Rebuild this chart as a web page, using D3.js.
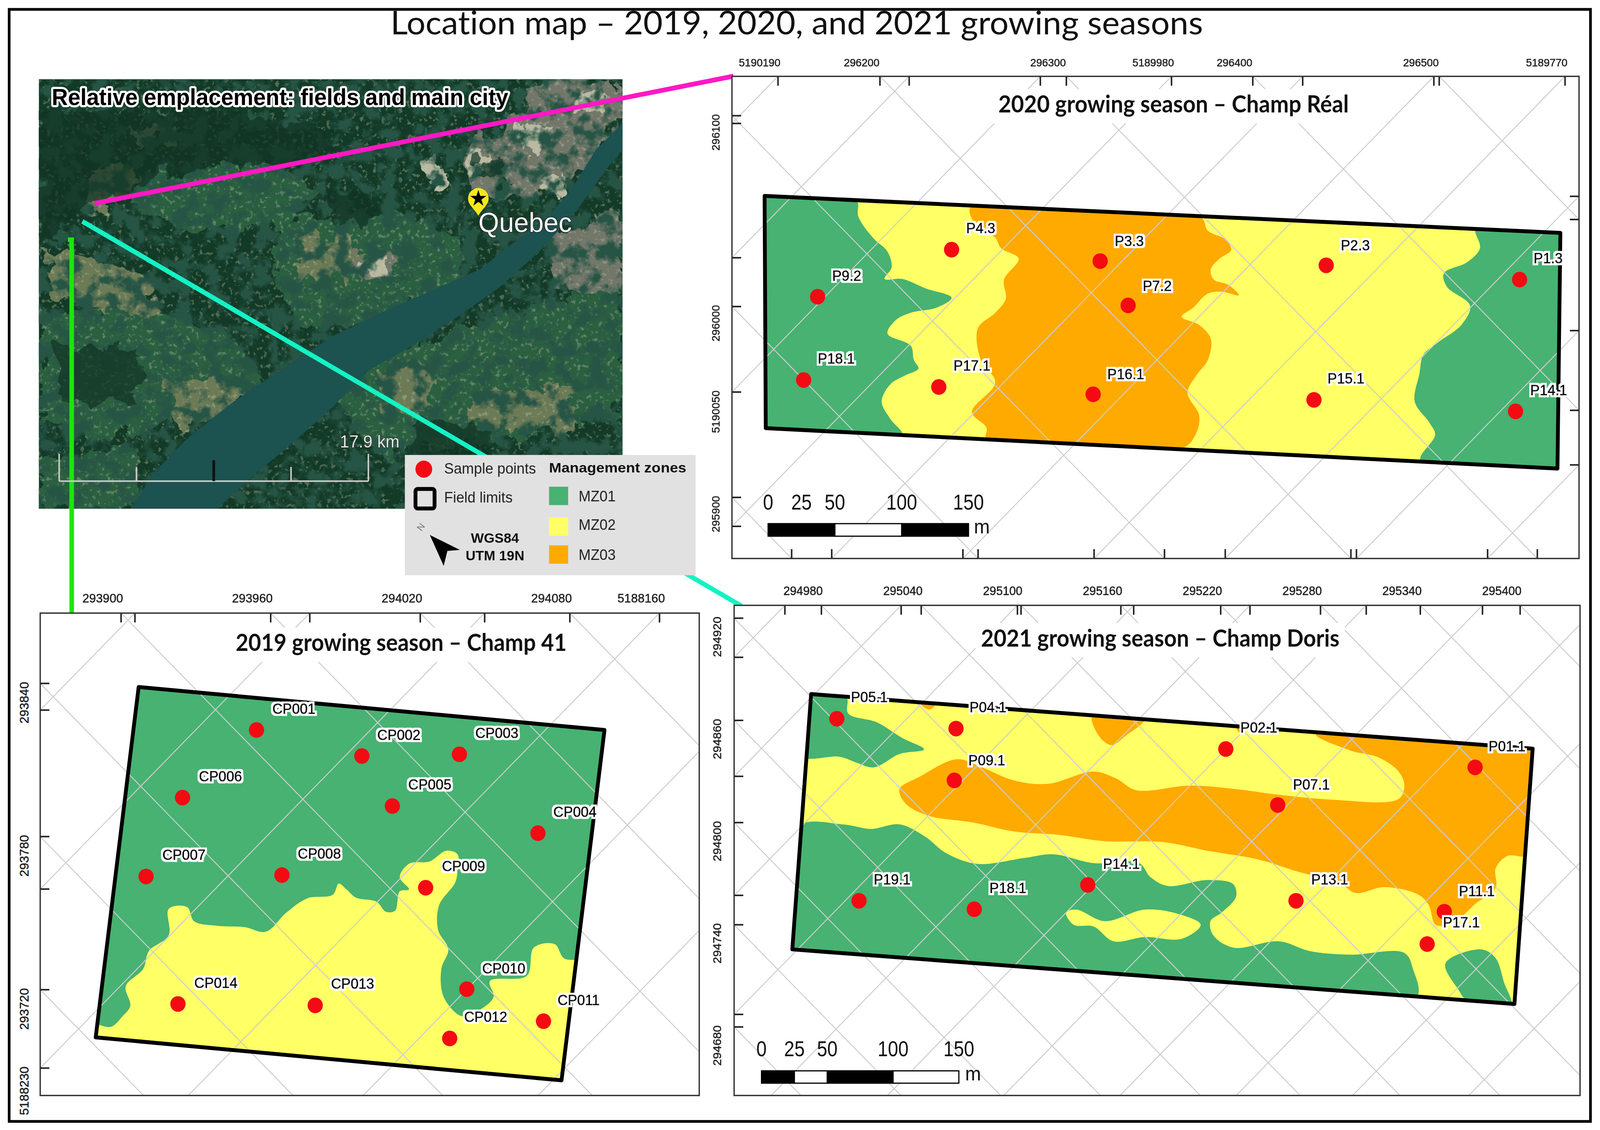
<!DOCTYPE html>
<html>
<head>
<meta charset="utf-8">
<script src="https://d3js.org/d3.v7.min.js"></script>
<style>
  html, body { margin: 0; padding: 0; width: 100%; height: 100%; overflow: hidden; background: #fff; }
  /* the window can come out narrower than asked, so the sheet always fills it */
  svg { display: block; width: 100vw; height: 100vh; }
  text { font-family: "Liberation Sans", Arial, sans-serif; font-variant-ligatures: none; }
</style>
</head>
<body>
<svg id="map" viewBox="0 0 4195 2894" preserveAspectRatio="none"></svg>
<script>
// titles
var mainTitle = "Location map – 2019, 2020, and 2021 growing seasons";
var reliefTitle = "Relative emplacement: fields and main city";

// zones
var zoneNames = ["MZ01", "MZ02", "MZ03"];
var zoneColors = ["#47b272", "#ffff66", "#ffaa00"];

// all outlines are digitized on a 0-1568 sheet for each panel

// Champ Reel 2020
var realField = [[134,450],[1500,556],[1495,1232],[136,1116]];
var realGreenLeft = [[120,440],[291,460],[295,510],[320,570],[345,610],[352,655],[340,688],[370,688],[410,715],[455,742],[430,770],[385,785],[360,805],[345,845],[385,880],[390,920],[398,945],[375,965],[350,990],[335,1040],[350,1090],[370,1135],[120,1125]];
var realGreenRight = [[1355,540],[1362,600],[1340,640],[1300,672],[1305,710],[1345,765],[1330,820],[1290,870],[1265,905],[1258,960],[1250,1040],[1275,1100],[1285,1135],[1260,1210],[1515,1245],[1515,545]];
var realOrange = [[488,480],[882,510],[895,550],[925,575],[935,605],[915,630],[900,660],[905,690],[930,705],[948,735],[920,725],[895,730],[870,770],[850,797],[880,820],[900,860],[895,920],[875,965],[860,1015],[880,1080],[875,1130],[850,1175],[515,1150],[515,1115],[490,1070],[530,985],[505,920],[500,830],[530,785],[548,745],[545,690],[570,630],[540,600],[530,570],[495,530]];
var realPoints = ["P4.3","P3.3","P2.3","P1.3","P9.2","P7.2","P18.1","P17.1","P16.1","P15.1","P14.1"];
var realPointX = [455,710,1098,1430,225,758,201,433,698,1077,1423];
var realPointY = [604,637,649,690,739,764,978,998,1019,1035,1068];
var realLabelX = [505,760,1148,1479,275,808,257,490,754,1132,1480];
var realLabelY = [546,583,595,632,682,711,920,940,965,977,1010];
var realEastings = [295900,296000,296100,296200,296300,296400,296500];
var realNorthings = [5190190,5190120,5190050,5189980,5189910,5189840,5189770,5189700,5189630,5189560];
var realTopLabels = [5190190,296200,296300,5189980,296400,296500,5189770];
var realLeftLabels = [296100,296000,5190050,295900];

// Champ 41 2019
var c41Field = [[300,310],[1308,432],[1215,1427],[207,1305]];
var c41Yellow = [[240,1275],[265,1245],[282,1215],[272,1160],[310,1110],[322,1060],[365,1015],[365,940],[405,935],[420,975],[470,988],[530,992],[575,1005],[620,950],[665,910],[720,900],[733,868],[750,885],[770,908],[815,920],[835,948],[855,945],[865,890],[885,885],[865,850],[885,812],[930,805],[965,775],[990,785],[990,830],[985,865],[950,930],[948,1000],[970,1055],[955,1110],[960,1190],[1000,1245],[1040,1225],[1068,1190],[1060,1145],[1140,1130],[1155,1050],[1200,1040],[1220,1080],[1260,1095],[1240,1450],[190,1320],[195,1268]];
var c41Points = ["CP001","CP002","CP003","CP006","CP005","CP004","CP007","CP008","CP009","CP010","CP014","CP013","CP011","CP012"];
var c41PointX = [555,783,994,395,849,1164,316,610,921,1010,385,682,1176,973];
var c41PointY = [432,506,501,624,648,725,848,844,880,1168,1210,1214,1259,1308];
var c41LabelX = [636,863,1075,477,930,1244,398,691,1003,1090,467,763,1252,1051];
var c41LabelY = [375,449,444,567,590,668,790,786,822,1112,1153,1156,1202,1250];
var c41Eastings = [293720,293780,293840,293900,293960,294020,294080];
var c41Northings = [5188370,5188300,5188230,5188160,5188090,5188020];
var c41TopLabels = [293900,293960,294020,294080,5188160];
var c41LeftLabels = [293840,293780,293720,5188230];

// Champ Doris 2021
var dorisField = [[185,330],[1450,485],[1418,1210],[152,1055]];
var dorisGreenTop = [[170,345],[205,335],[247,340],[250,385],[300,410],[345,455],[383,487],[340,500],[295,538],[265,525],[235,508],[165,505]];
var dorisGreenLow = [[160,708],[240,700],[290,713],[340,700],[385,735],[420,780],[475,812],[560,795],[610,785],[680,810],[760,810],[780,850],[810,875],[880,858],[925,870],[930,905],[905,950],[885,975],[890,1015],[925,1050],[1005,1032],[1060,1060],[1130,1070],[1225,1065],[1240,1110],[1245,1195],[135,1065]];
var dorisYellowIsland = [[632,950],[650,942],[700,975],[770,942],[830,955],[868,985],[835,1025],[770,1020],[715,1032],[680,990],[645,985]];
var dorisGreenCorner = [[1297,1095],[1360,1055],[1385,1080],[1400,1150],[1412,1215],[1335,1200],[1320,1170]];
var dorisOrangeTop = [[678,390],[770,400],[735,450],[712,475],[690,450]];
var dorisOrangeSlivers = [[378,360],[402,362],[392,374]];
var dorisOrangeTip = [[928,415],[948,420],[938,442]];
var dorisOrange = [[1070,445],[1465,480],[1445,785],[1405,790],[1385,825],[1385,880],[1350,925],[1310,980],[1280,985],[1268,930],[1250,900],[1190,878],[1140,895],[1110,865],[1040,835],[970,800],[880,775],[800,750],[700,748],[620,730],[540,720],[470,695],[390,675],[350,640],[340,600],[375,565],[440,515],[480,535],[540,575],[600,585],[680,550],[720,570],[755,603],[850,590],[930,600],[1000,615],[1100,630],[1215,628],[1225,590],[1215,550],[1180,510],[1130,490]];
var dorisPoints = ["P05.1","P04.1","P02.1","P01.1","P09.1","P07.1","P14.1","P19.1","P18.1","P13.1","P11.1","P17.1"];
var dorisPointX = [230,439,912,1349,436,1003,670,269,471,1035,1295,1265];
var dorisPointY = [400,428,486,538,575,645,872,917,941,917,948,1040];
var dorisLabelX = [287,495,970,1405,493,1062,729,327,530,1094,1352,1325];
var dorisLabelY = [342,371,428,482,522,590,815,860,884,860,893,982];
var dorisEastings = [294620,294680,294740,294800,294860,294920,294980,295040,295100,295160,295220,295280,295340,295400];
var dorisNorthingSteps = [0,1,2,3,4,5,6,7,8,9,10,11];
var dorisTopLabels = [294980,295040,295100,295160,295220,295280,295340,295400];
var dorisLeftLabels = [294920,294860,294800,294740,294680];

// scale bars
var scaleBarMeters = [0,25,50,100,150];
var realBarBlocks = [[0,50,"#000"],[50,100,"#fff"],[100,150,"#000"]];
var dorisBarBlocks = [[0,25,"#000"],[25,50,"#fff"],[50,100,"#000"],[100,150,"#fff"]];

// location image outlines
var riverOutline = [[1347,330],[1290,400],[1240,500],[1180,590],[1100,660],[1040,720],[930,780],[820,840],[720,900],[620,980],[500,1080],[400,1180],[330,1270],[285,1362],[470,1362],[560,1260],[620,1200],[720,1090],[800,990],[900,920],[1000,840],[1080,770],[1170,670],[1250,560],[1320,440],[1347,400]];
var forestPatches = [
  [[600,600],[850,560],[1000,640],[1000,780],[820,860],[640,880],[590,740]],
  [[90,840],[330,820],[500,900],[560,1000],[420,1100],[240,1180],[90,1130]],
  [[300,480],[560,430],[700,500],[620,600],[420,620],[300,570]],
  [[700,1000],[950,900],[1150,820],[1345,760],[1345,1100],[1100,1180],[800,1210]],
  [[90,1230],[300,1200],[310,1362],[90,1362]]
];
var fieldPatches = [
  [[95,680],[150,670],[340,760],[330,840],[220,830],[100,790]],
  [[210,440],[300,460],[240,580],[180,570]],
  [[360,1020],[520,1030],[530,1100],[380,1150]],
  [[1010,1060],[1250,1030],[1240,1150],[1020,1140]],
  [[820,1000],[930,970],[930,1090],[820,1130]],
  [[280,340],[380,340],[390,370],[290,385]],
  [[640,640],[760,620],[780,720],[650,760]]
];
var cityPatches = [
  [[1000,420],[1130,290],[1345,230],[1345,330],[1240,480],[1150,540],[1030,520]],
  [[1150,215],[1320,215],[1340,290],[1150,300]],
  [[1180,630],[1340,560],[1345,790],[1200,780]],
  [[770,680],[860,680],[850,740],[780,750]]
];
var brightPatches = [
  [[1015,420],[1060,410],[1065,470],[1020,480]],
  [[920,440],[960,430],[965,490],[925,495]],
  [[1170,470],[1220,465],[1215,510],[1175,515]],
  [[1120,350],[1190,330],[1195,390],[1130,400]],
  [[1240,260],[1310,250],[1310,300],[1245,310]],
  [[785,690],[850,685],[840,730],[790,735]]
];
var darkForest = [
  [[84,300],[420,290],[720,340],[700,430],[420,450],[260,520],[84,640]],
  [[720,520],[800,510],[790,590],[730,600]],
  [[1040,430],[1090,425],[1090,475],[1040,480]],
  [[120,920],[300,940],[290,1080],[130,1070]],
  [[900,1120],[1060,1150],[1060,1240],[900,1230]]
];

var svg = d3.select("#map");
var defs = svg.append("defs");
var narrow = "Lato, 'Noto Sans', sans-serif";

function sheet(x, y, w, h) {
  return {
    x: d3.scaleLinear().domain([0, 1568]).range([x, x + w]),
    y: d3.scaleLinear().domain([0, 1568]).range([y, y + h])
  };
}

var locSheet = sheet(0, 0, 1900, 1500);
var realSheet = sheet(1800, 100, 2395, 1400);
var c41Sheet = sheet(0, 1480, 1900, 1414);
var dorisSheet = sheet(1850, 1480, 2345, 1414);

function outline(s) {
  return d3.line().x(d => s.x(d[0])).y(d => s.y(d[1])).curve(d3.curveLinearClosed);
}
function zoneEdge(s) {
  return d3.line().x(d => s.x(d[0])).y(d => s.y(d[1])).curve(d3.curveCatmullRomClosed.alpha(0.5));
}

/* ---- photo texture filters, only for the location image ---- */
var rough = defs.append("filter").attr("id", "rough").attr("x", "-10%").attr("y", "-10%").attr("width", "120%").attr("height", "120%");
rough.append("feTurbulence").attr("type", "fractalNoise").attr("baseFrequency", 0.018).attr("numOctaves", 4).attr("seed", 4).attr("result", "n");
rough.append("feDisplacementMap").attr("in", "SourceGraphic").attr("in2", "n").attr("scale", 90);

var darkSpeck = defs.append("filter").attr("id", "darkSpeck").attr("x", 0).attr("y", 0).attr("width", "100%").attr("height", "100%");
darkSpeck.append("feTurbulence").attr("type", "fractalNoise").attr("baseFrequency", 0.024).attr("numOctaves", 5).attr("seed", 11);
darkSpeck.append("feColorMatrix").attr("values", "0 0 0 0 0.02  0 0 0 0 0.09  0 0 0 0 0.06  5 0 0 0 -2.2");

var lightSpeck = defs.append("filter").attr("id", "lightSpeck").attr("x", 0).attr("y", 0).attr("width", "100%").attr("height", "100%");
lightSpeck.append("feTurbulence").attr("type", "fractalNoise").attr("baseFrequency", 0.09).attr("numOctaves", 3).attr("seed", 23);
lightSpeck.append("feColorMatrix").attr("values", "0 0 0 0 0.55  0 0 0 0 0.60  0 0 0 0 0.42  0 7 0 0 -4.1");

// white halo around the sample point names
var halo = defs.append("filter").attr("id", "halo").attr("x", "-20%").attr("y", "-30%").attr("width", "140%").attr("height", "160%");
halo.append("feMorphology").attr("in", "SourceAlpha").attr("operator", "dilate").attr("radius", 5).attr("result", "fat");
halo.append("feFlood").attr("flood-color", "#fff");
halo.append("feComposite").attr("in2", "fat").attr("operator", "in").attr("result", "white");
var haloMerge = halo.append("feMerge");
haloMerge.append("feMergeNode").attr("in", "white");
haloMerge.append("feMergeNode").attr("in", "SourceGraphic");

/* ---- outer frame and main title ---- */
svg.append("rect").attr("width", 4195).attr("height", 2894).attr("fill", "#fff");
svg.append("rect").attr("x", 24).attr("y", 24).attr("width", 4146).attr("height", 2848)
  .attr("fill", "none").attr("stroke", "#000").attr("stroke-width", 7);

svg.append("text").attr("x", 2089).attr("y", 88).attr("text-anchor", "middle")
  .style("font-family", narrow).attr("font-size", 84)
  .attr("textLength", 2130).attr("lengthAdjust", "spacingAndGlyphs")
  .attr("fill", "#111").text(mainTitle);

/* ---- location image ---- */
var imgX = locSheet.x(84), imgY = locSheet.y(212), imgW = locSheet.x(1347) - imgX, imgH = locSheet.y(1362) - imgY;
defs.append("clipPath").attr("id", "imgClip").append("rect")
  .attr("x", imgX).attr("y", imgY).attr("width", imgW).attr("height", imgH);

var photo = svg.append("g").attr("clip-path", "url(#imgClip)");
photo.append("rect").attr("x", imgX).attr("y", imgY).attr("width", imgW).attr("height", imgH).attr("fill", "#123a27");

var patchLayer = photo.append("g").attr("filter", "url(#rough)");
patchLayer.selectAll(".forest").data(forestPatches).enter().append("path")
  .attr("d", outline(locSheet)).attr("fill", "#2a5f41");
patchLayer.selectAll(".fieldp").data(fieldPatches).enter().append("path")
  .attr("d", outline(locSheet)).attr("fill", "#6c7a56");
patchLayer.selectAll(".city").data(cityPatches).enter().append("path")
  .attr("d", outline(locSheet)).attr("fill", "#72776a");
patchLayer.selectAll(".bright").data(brightPatches).enter().append("path")
  .attr("d", outline(locSheet)).attr("fill", "#b9b9a2");

photo.append("rect").attr("x", imgX).attr("y", imgY).attr("width", imgW).attr("height", imgH)
  .attr("filter", "url(#lightSpeck)").attr("opacity", 0.35);
photo.append("rect").attr("x", imgX).attr("y", imgY).attr("width", imgW).attr("height", imgH)
  .attr("filter", "url(#darkSpeck)");

photo.append("g").attr("filter", "url(#rough)").selectAll("path").data(darkForest).enter().append("path")
  .attr("d", outline(locSheet)).attr("fill", "#0f3323").attr("opacity", 0.7);

photo.append("path").datum(riverOutline).attr("d", outline(locSheet)).attr("fill", "#1c5250");

/* ---- connector lines, under the legend ---- */
svg.append("line").attr("x1", 248).attr("y1", 521).attr("x2", 1923).attr("y2", 195)
  .attr("stroke", "#ff18c4").attr("stroke-width", 12);
svg.append("line").attr("x1", 216).attr("y1", 567).attr("x2", 1944).attr("y2", 1552)
  .attr("stroke", "#14f2c4").attr("stroke-width", 12);
svg.append("path").attr("d", "M178,614 H188 V1572").attr("fill", "none")
  .attr("stroke", "#1ce60c").attr("stroke-width", 12);

/* city pin and image labels */
var pin = svg.append("g").attr("transform", "translate(" + locSheet.x(1035) + "," + locSheet.y(540) + ")");
pin.append("path").attr("d", "M0,36 C-12,16 -27,8 -27,-8 A27,27 0 1 1 27,-8 C27,8 12,16 0,36 Z").attr("fill", "#f6e71c");
pin.append("path").attr("d", d3.symbol().type(d3.symbolStar).size(560)()).attr("transform", "translate(0,-8)").attr("fill", "#000");

svg.append("text").attr("x", locSheet.x(1035)).attr("y", locSheet.y(602)).attr("dominant-baseline", "middle")
  .attr("font-size", 70).attr("fill", "#f4f4f4").attr("stroke", "#222").attr("stroke-width", 3)
  .style("paint-order", "stroke").text("Quebec");

svg.append("text").attr("x", locSheet.x(112)).attr("y", locSheet.y(265)).attr("dominant-baseline", "middle")
  .attr("font-size", 60).attr("font-weight", 700).attr("textLength", 1197).attr("lengthAdjust", "spacingAndGlyphs")
  .attr("fill", "#000").attr("stroke", "#fff").attr("stroke-width", 11).attr("stroke-linejoin", "round")
  .style("paint-order", "stroke").text(reliefTitle);

/* image scale bar */
var kmBar = d3.scaleLinear().domain([0, 4]).range([locSheet.x(128), locSheet.x(797)]);
svg.append("line").attr("x1", kmBar(0)).attr("x2", kmBar(4)).attr("y1", locSheet.y(1288)).attr("y2", locSheet.y(1288))
  .attr("stroke", "#ccc").attr("stroke-width", 4);
[0, 1, 2, 3, 4].forEach(function(d) {
  svg.append("line").attr("x1", kmBar(d)).attr("x2", kmBar(d))
    .attr("y1", locSheet.y(d == 2 ? 1232 : (d % 4 == 0 ? 1215 : 1250))).attr("y2", locSheet.y(1288))
    .attr("stroke", d == 2 ? "#111" : "#ccc").attr("stroke-width", d == 2 ? 7 : 4);
});
svg.append("text").attr("x", locSheet.x(800)).attr("y", locSheet.y(1186)).attr("text-anchor", "middle").attr("dominant-baseline", "middle")
  .attr("font-size", 44).attr("fill", "#e8e8e8").attr("stroke", "#222").attr("stroke-width", 2)
  .style("paint-order", "stroke").text("17.9 km");

/* ---- map panels ---- */
function drawPanel(p) {
  var s = p.sheet;
  var L = s.x(p.frame[0]), R = s.x(p.frame[1]), T = s.y(p.frame[2]), B = s.y(p.frame[3]);
  var clipId = p.id + "Clip";
  defs.append("clipPath").attr("id", clipId).append("rect")
    .attr("x", L).attr("y", T).attr("width", R - L).attr("height", B - T);
  defs.append("clipPath").attr("id", p.id + "FieldClip").append("path").datum(p.field).attr("d", outline(s));
  var g = svg.append("g");

  g.append("rect").attr("x", L).attr("y", T).attr("width", R - L).attr("height", B - T).attr("fill", "#fff");

  var zonesG = g.append("g").attr("clip-path", "url(#" + p.id + "FieldClip)");
  zonesG.append("path").datum(p.field).attr("d", outline(s)).attr("fill", p.baseColor);
  p.zones.forEach(function(z) {
    zonesG.append("path").datum(z[0]).attr("d", zoneEdge(s)).attr("fill", zoneColors[z[1]]);
  });

  /* grid lines: 45 degrees on the sheet, one family per projected axis */
  var eastX = d3.scaleLinear().domain(p.eastRef).range(p.eastPos.map(s.x));
  var northX = d3.scaleLinear().domain(p.northRef).range(p.northPos.map(s.x));
  var lines = [];
  p.eastings.forEach(function(v) { lines.push({ v: v, x0: eastX(v), dir: 1 }); });
  p.northings.forEach(function(v) { lines.push({ v: v, x0: northX(v), dir: -1 }); });

  var span = 4000;
  var gridG = g.append("g").attr("clip-path", "url(#" + clipId + ")");
  gridG.selectAll("line").data(lines).enter().append("line")
    .attr("x1", d => d.x0 - d.dir * span).attr("y1", T - span)
    .attr("x2", d => d.x0 + d.dir * span).attr("y2", T + span)
    .attr("stroke", "#cdcdcd").attr("stroke-width", 2.5);

  /* ticks where the grid meets the frame */
  var tickLen = 24;
  var tickG = g.append("g").attr("stroke", "#222").attr("stroke-width", 4);
  lines.forEach(function(d) {
    if (d.x0 >= L && d.x0 <= R) {
      tickG.append("line").attr("x1", d.x0).attr("x2", d.x0).attr("y1", T).attr("y2", T + tickLen);
    }
    var yLeft = T + (L - d.x0) * d.dir;
    d.yLeft = yLeft;
    if (yLeft > T && yLeft < B) {
      tickG.append("line").attr("x1", L).attr("x2", L + tickLen).attr("y1", yLeft).attr("y2", yLeft);
    }
    if (p.allSides) {
      var yRight = T + (R - d.x0) * d.dir;
      if (yRight > T && yRight < B) {
        tickG.append("line").attr("x1", R - tickLen).attr("x2", R).attr("y1", yRight).attr("y2", yRight);
      }
      var xBottom = d.x0 + d.dir * (B - T);
      if (xBottom > L && xBottom < R) {
        tickG.append("line").attr("x1", xBottom).attr("x2", xBottom).attr("y1", B - tickLen).attr("y2", B);
      }
    }
  });

  /* frame */
  g.append("rect").attr("x", L).attr("y", T).attr("width", R - L).attr("height", B - T)
    .attr("fill", "none").attr("stroke", "#333").attr("stroke-width", 3.5);

  /* axis labels */
  var topG = g.append("g");
  p.topLabels.forEach(function(v) {
    var d = lines.find(l => l.v === v);
    topG.append("text").attr("x", d.x0 - 48).attr("y", s.y(p.topLabelY)).attr("text-anchor", "middle")
      .attr("dominant-baseline", "middle").attr("font-size", p.axisFont)
      .attr("fill", "#222").attr("stroke", "#222").attr("stroke-width", 0.7).text(v);
  });
  p.leftLabels.forEach(function(v) {
    var d = lines.find(l => l.v === v);
    var lx = s.x(p.leftLabelX);
    topG.append("text").attr("transform", "translate(" + lx + "," + (d.yLeft - 4) + ") rotate(-90)")
      .attr("text-anchor", "end").attr("dominant-baseline", "middle")
      .attr("font-size", p.axisFont).attr("fill", "#222").attr("stroke", "#222").attr("stroke-width", 0.7).text(v);
  });

  /* field limit */
  g.append("path").datum(p.field).attr("d", outline(s)).attr("fill", "none")
    .attr("stroke", "#000").attr("stroke-width", 10).attr("stroke-linejoin", "round");

  /* title on a white box */
  g.append("rect").attr("x", s.x(p.titleX) - p.titleW / 2 - 14).attr("y", s.y(p.titleY) - 44)
    .attr("width", p.titleW + 28).attr("height", 88).attr("fill", "#fff");
  g.append("text").attr("x", s.x(p.titleX)).attr("y", s.y(p.titleY))
    .attr("text-anchor", "middle").attr("dominant-baseline", "middle")
    .style("font-family", narrow).attr("font-weight", 700).attr("font-size", 62)
    .attr("textLength", p.titleW).attr("lengthAdjust", "spacingAndGlyphs")
    .attr("fill", "#111").text(p.title);

  /* sample points and names */
  var pts = p.names.map((n, i) => ({ name: n, x: p.px[i], y: p.py[i], lx: p.lx[i], ly: p.ly[i] }));
  g.selectAll("circle").data(pts).enter().append("circle")
    .attr("cx", d => s.x(d.x)).attr("cy", d => s.y(d.y)).attr("r", 20).attr("fill", "#f40a12");
  g.selectAll(".pt").data(pts).enter().append("text").attr("class", "pt")
    .attr("x", d => s.x(d.lx)).attr("y", d => s.y(d.ly))
    .attr("text-anchor", "middle").attr("dominant-baseline", "middle")
    .attr("font-size", 37).attr("fill", "#000").attr("stroke", "#000").attr("stroke-width", 1)
    .attr("filter", "url(#halo)").text(d => d.name);

  /* scale bar */
  if (p.bar) {
    var bx = d3.scaleLinear().domain([0, 150]).range([s.x(p.bar.x0), s.x(p.bar.x1)]);
    var by0 = s.y(p.bar.y0), by1 = s.y(p.bar.y1);
    g.selectAll(".blk").data(p.bar.blocks).enter().append("rect").attr("class", "blk")
      .attr("x", d => bx(d[0])).attr("y", by0).attr("width", d => bx(d[1]) - bx(d[0])).attr("height", by1 - by0)
      .attr("fill", d => d[2]).attr("stroke", "#000").attr("stroke-width", 3);
    g.selectAll(".bl").data(scaleBarMeters).enter().append("text").attr("class", "bl")
      .attr("x", d => bx(d)).attr("y", s.y(p.bar.labelY) - 4).attr("text-anchor", "middle").attr("dominant-baseline", "middle")
      .attr("font-size", 56).attr("fill", "#111").text(d => d)
      .each(function(d) { d3.select(this).attr("textLength", String(d).length * 27).attr("lengthAdjust", "spacingAndGlyphs"); });
    g.append("text").attr("x", s.x(p.bar.mX)).attr("y", s.y(p.bar.mY)).attr("text-anchor", "middle").attr("dominant-baseline", "middle")
      .attr("font-size", 50).attr("fill", "#111").text("m");
  }
}

drawPanel({
  id: "real", sheet: realSheet, frame: [78, 1532, 107, 1490],
  field: realField, baseColor: zoneColors[1],
  zones: [[realGreenLeft, 0], [realGreenRight, 0], [realOrange, 2]],
  eastings: realEastings, northings: realNorthings,
  eastRef: [296200, 296500], eastPos: [332, 1292],
  northRef: [5190190, 5189770], northPos: [157, 1508],
  allSides: true,
  topLabels: realTopLabels, leftLabels: realLeftLabels,
  topLabelY: 70, leftLabelX: 52, axisFont: 28,
  title: "2020 growing season – Champ Réal", titleX: 836, titleY: 193, titleW: 919,
  names: realPoints, px: realPointX, py: realPointY, lx: realLabelX, ly: realLabelY,
  bar: { x0: 140, x1: 484, y0: 1390, y1: 1426, labelY: 1338, mX: 507, mY: 1403, blocks: realBarBlocks }
});

drawPanel({
  id: "c41", sheet: c41Sheet, frame: [87, 1513, 100, 1470],
  field: c41Field, baseColor: zoneColors[0],
  zones: [[c41Yellow, 1]],
  eastings: c41Eastings, northings: c41Northings,
  eastRef: [293900, 294080], eastPos: [262, 1233],
  northRef: [5188370, 5188160], northPos: [292, 1427],
  allSides: false,
  topLabels: c41TopLabels, leftLabels: c41LeftLabels,
  topLabelY: 60, leftLabelX: 55, axisFont: 32,
  title: "2019 growing season – Champ 41", titleX: 868, titleY: 190, titleW: 868,
  names: c41Points, px: c41PointX, py: c41PointY, lx: c41LabelX, ly: c41LabelY
});

drawPanel({
  id: "doris", sheet: dorisSheet, frame: [50, 1533, 78, 1470],
  field: dorisField, baseColor: zoneColors[1],
  zones: [[dorisGreenTop, 0], [dorisGreenLow, 0], [dorisYellowIsland, 1], [dorisGreenCorner, 0], [dorisOrangeTop, 2], [dorisOrangeSlivers, 2], [dorisOrangeTip, 2], [dorisOrange, 2]],
  eastings: dorisEastings, northings: dorisNorthingSteps,
  eastRef: [294980, 295400], eastPos: [203, 1428],
  northRef: [0, 6], northPos: [139, 1362],
  allSides: false,
  topLabels: dorisTopLabels, leftLabels: dorisLeftLabels,
  topLabelY: 40, leftLabelX: 22, axisFont: 31,
  title: "2021 growing season – Champ Doris", titleX: 797, titleY: 177, titleW: 940,
  names: dorisPoints, px: dorisPointX, py: dorisPointY, lx: dorisLabelX, ly: dorisLabelY,
  bar: { x0: 98, x1: 444, y0: 1400, y1: 1435, labelY: 1347, mX: 469, mY: 1412, blocks: dorisBarBlocks }
});

/* ---- legend ---- */
var lg = svg.append("g");
lg.append("rect").attr("x", locSheet.x(876)).attr("y", locSheet.y(1218))
  .attr("width", locSheet.x(1505) - locSheet.x(876)).attr("height", locSheet.y(1540) - locSheet.y(1218)).attr("fill", "#e1e1e1");

lg.append("circle").attr("cx", locSheet.x(917)).attr("cy", locSheet.y(1256)).attr("r", 22).attr("fill", "#f40a12");
lg.append("text").attr("x", locSheet.x(961)).attr("y", locSheet.y(1258)).attr("dominant-baseline", "middle")
  .attr("font-size", 38).attr("fill", "#222").text("Sample points");
lg.append("rect").attr("x", locSheet.x(899)).attr("y", locSheet.y(1309)).attr("width", 50).attr("height", 50).attr("rx", 6)
  .attr("fill", "none").attr("stroke", "#000").attr("stroke-width", 10);
lg.append("text").attr("x", locSheet.x(961)).attr("y", locSheet.y(1335)).attr("dominant-baseline", "middle")
  .attr("font-size", 38).attr("fill", "#222").text("Field limits");
lg.append("text").attr("x", locSheet.x(1188)).attr("y", locSheet.y(1255)).attr("dominant-baseline", "middle")
  .attr("font-size", 35).attr("font-weight", 700).attr("textLength", 360).attr("lengthAdjust", "spacingAndGlyphs")
  .attr("fill", "#111").text("Management zones");

var swatchY = d3.scaleOrdinal().domain(zoneNames).range([1303, 1385, 1460]);
var swatchLabelY = d3.scaleOrdinal().domain(zoneNames).range([1332, 1408, 1488]);
lg.selectAll(".sw").data(zoneNames).enter().append("rect").attr("class", "sw")
  .attr("x", locSheet.x(1188)).attr("y", d => locSheet.y(swatchY(d))).attr("width", 50).attr("height", 47)
  .attr("fill", (d, i) => zoneColors[i]);
lg.selectAll(".swl").data(zoneNames).enter().append("text").attr("class", "swl")
  .attr("x", locSheet.x(1252)).attr("y", d => locSheet.y(swatchLabelY(d))).attr("dominant-baseline", "middle")
  .attr("font-size", 38).attr("fill", "#222").text(d => d);

lg.append("text").attr("transform", "translate(" + locSheet.x(912) + "," + locSheet.y(1412) + ") rotate(-55)")
  .attr("text-anchor", "middle").attr("dominant-baseline", "middle").attr("font-size", 24).attr("fill", "#777").text("N");
lg.append("path").datum([[930,1432],[995,1472],[968,1475],[960,1515]]).attr("d", outline(locSheet)).attr("fill", "#000");
lg.append("text").attr("x", locSheet.x(1071)).attr("y", locSheet.y(1443)).attr("text-anchor", "middle").attr("dominant-baseline", "middle")
  .attr("font-size", 36).attr("font-weight", 700).attr("fill", "#111").text("WGS84");
lg.append("text").attr("x", locSheet.x(1071)).attr("y", locSheet.y(1490)).attr("text-anchor", "middle").attr("dominant-baseline", "middle")
  .attr("font-size", 36).attr("font-weight", 700).attr("fill", "#111").text("UTM 19N");
</script>
</body>
</html>
